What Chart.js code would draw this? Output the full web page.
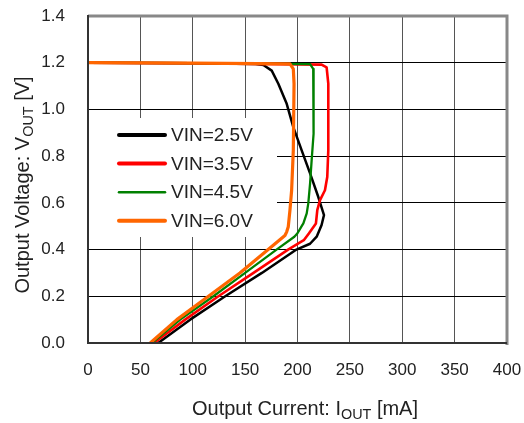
<!DOCTYPE html>
<html>
<head>
<meta charset="utf-8">
<script src="https://cdn.jsdelivr.net/npm/chart.js@4/dist/chart.umd.min.js"></script>
<style>
  body { margin: 0; background: #fff; }
</style>
</head>
<body>
<canvas id="ivChart" width="524" height="423"></canvas>
<script>
// data: output current [mA] vs output voltage [V]
const labels = ['VIN=2.5V', 'VIN=3.5V', 'VIN=4.5V', 'VIN=6.0V'];
const colors = ['#000000', '#ff0000', '#008000', '#ff6600'];

const vin25I = [0, 100, 160, 167.4, 175.4, 181.7, 189.7, 196, 204, 212, 219.8, 225.3, 223, 218.3, 212, 199, 166, 131, 97.5, 67];
const vin25V = [1.2, 1.198, 1.194, 1.19, 1.166, 1.11, 1.024, 0.924, 0.825, 0.726, 0.626, 0.548, 0.505, 0.455, 0.425, 0.4, 0.3, 0.2, 0.1, 0];

const vin35I = [0, 100, 223, 227.8, 229.4, 229.4, 228.4, 226.2, 221.5, 218.9, 217.6, 211, 206, 191, 158, 124.5, 92.7, 63];
const vin35V = [1.2, 1.198, 1.192, 1.18, 1.11, 0.825, 0.711, 0.654, 0.612, 0.569, 0.512, 0.47, 0.44, 0.4, 0.3, 0.2, 0.1, 0];

const vin45I = [0, 100, 212, 215, 215.7, 215, 213.5, 212, 210.3, 208.8, 205.6, 204, 200, 197, 180, 150, 119.7, 88, 61];
const vin45V = [1.2, 1.198, 1.194, 1.174, 1.11, 0.896, 0.782, 0.683, 0.598, 0.555, 0.512, 0.5, 0.47, 0.455, 0.4, 0.3, 0.2, 0.1, 0];

const vin60I = [0, 100, 192.8, 196, 196.7, 196, 194.4, 192.8, 191.2, 189.7, 188, 172, 145, 115, 84.8, 59.4];
const vin60V = [1.2, 1.198, 1.195, 1.174, 1.11, 0.825, 0.654, 0.569, 0.498, 0.476, 0.46, 0.4, 0.3, 0.2, 0.1, 0];

const xTicks = [0, 50, 100, 150, 200, 250, 300, 350, 400];
const yTicks = [0, 0.2, 0.4, 0.6, 0.8, 1.0, 1.2, 1.4];

const seriesI = [vin25I, vin35I, vin45I, vin60I];
const seriesV = [vin25V, vin35V, vin45V, vin60V];
const lineWidths = [2.5, 2.6, 2.3, 3.2];

const FONT = '"Liberation Sans", Arial, sans-serif';

function pairs(xs, ys) {
  return xs.map((x, i) => ({ x: x, y: ys[i] }));
}

// text with a subscript part, e.g. I_OUT
function drawParts(ctx, parts, size) {
  let total = 0;
  parts.forEach(p => {
    ctx.font = (p.sub ? size * 0.72 : size) + 'px ' + FONT;
    p.w = ctx.measureText(p.t).width;
    total += p.w;
  });
  let x = -total / 2;
  parts.forEach(p => {
    ctx.font = (p.sub ? size * 0.72 : size) + 'px ' + FONT;
    ctx.fillText(p.t, x, p.sub ? size * 0.22 : 0);
    x += p.w;
  });
}

const titlesPlugin = {
  id: 'titles',
  afterDraw(chart) {
    const ctx = chart.ctx;
    ctx.save();
    ctx.fillStyle = '#222';
    ctx.textBaseline = 'alphabetic';
    ctx.translate(305, 415);
    drawParts(ctx, [{ t: 'Output Current: I' }, { t: 'OUT', sub: true }, { t: ' [mA]' }], 20);
    ctx.restore();

    ctx.save();
    ctx.fillStyle = '#222';
    ctx.translate(29, 185);
    ctx.rotate(-Math.PI / 2);
    drawParts(ctx, [{ t: 'Output Voltage: V' }, { t: 'OUT', sub: true }, { t: ' [V]' }], 20);
    ctx.restore();
  }
};

// legend inside the plot, on a white box that hides the grid
const legendPlugin = {
  id: 'insideLegend',
  beforeDatasetsDraw(chart) {
    const ctx = chart.ctx;
    const a = chart.chartArea;
    ctx.save();
    ctx.fillStyle = '#fff';
    ctx.fillRect(a.left + 1, 118, 188, 119);
    ctx.restore();
  },
  afterDatasetsDraw(chart) {
    const ctx = chart.ctx;
    const a = chart.chartArea;
    ctx.save();
    ctx.font = '19px ' + FONT;
    ctx.textBaseline = 'middle';
    chart.data.datasets.forEach((ds, i) => {
      const y = 135 + i * 28.6;
      ctx.strokeStyle = ds.borderColor;
      ctx.lineWidth = i === 2 ? 2.5 : 4;
      ctx.lineCap = 'round';
      ctx.beginPath();
      ctx.moveTo(a.left + 31, y);
      ctx.lineTo(a.left + 77, y);
      ctx.stroke();
      ctx.fillStyle = '#222';
      ctx.fillText(ds.label, a.left + 83, y + 1);
    });
    ctx.restore();
  }
};

const framePlugin = {
  id: 'frame',
  afterDraw(chart) {
    const ctx = chart.ctx;
    const a = chart.chartArea;
    ctx.save();
    ctx.strokeStyle = '#888';
    ctx.lineWidth = 3;
    ctx.beginPath();
    ctx.moveTo(a.left, a.top);
    ctx.lineTo(a.right, a.top);
    ctx.lineTo(a.right, a.bottom + 2);
    ctx.stroke();
    ctx.strokeStyle = '#333';
    ctx.lineWidth = 2;
    ctx.beginPath();
    ctx.moveTo(a.left, a.top - 1);
    ctx.lineTo(a.left, a.bottom);
    ctx.lineTo(a.right, a.bottom);
    ctx.stroke();
    ctx.restore();
  }
};

const ctx = document.getElementById('ivChart').getContext('2d');
const ivChart = new Chart(ctx, {
  type: 'scatter',
  data: {
    datasets: labels.map((label, i) => ({
      label: label,
      data: pairs(seriesI[i], seriesV[i]),
      showLine: true,
      borderColor: colors[i],
      backgroundColor: colors[i],
      borderWidth: lineWidths[i],
      pointRadius: 0,
      tension: 0,
      borderJoinStyle: 'round',
      order: 4 - i
    }))
  },
  options: {
    responsive: false,
    animation: false,
    layout: { padding: { top: 16, right: 17, left: 0, bottom: 0 } },
    plugins: {
      legend: { display: false },
      tooltip: { enabled: false }
    },
    scales: {
      x: {
        type: 'linear',
        min: 0,
        max: 400,
        afterFit: s => { s.height = 80; s.paddingLeft = 0; s.paddingRight = 0; },
        afterBuildTicks: s => { s.ticks = xTicks.map(v => ({ value: v })); },
        ticks: { color: '#222', font: { family: FONT, size: 17 }, padding: 17 },
        grid: { color: '#555', lineWidth: 1, drawTicks: false },
        border: { display: false }
      },
      y: {
        type: 'linear',
        min: 0,
        max: 1.4,
        afterFit: s => { s.width = 88; s.paddingTop = 0; s.paddingBottom = 0; },
        afterBuildTicks: s => { s.ticks = yTicks.map(v => ({ value: v })); },
        ticks: {
          color: '#222',
          font: { family: FONT, size: 17 },
          padding: 23,
          callback: v => v.toFixed(1)
        },
        grid: { color: '#000', lineWidth: 1, drawTicks: false },
        border: { display: false }
      }
    }
  },
  plugins: [legendPlugin, titlesPlugin, framePlugin]
});
</script>
</body>
</html>
